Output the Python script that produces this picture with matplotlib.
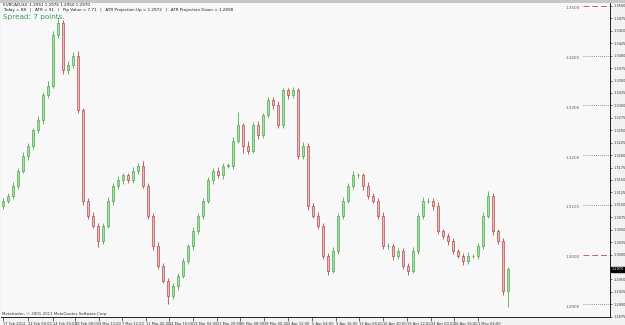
import matplotlib
matplotlib.use("Agg")
import matplotlib.pyplot as plt

# ---------------- data ----------------
closes = [1.3108, 1.3118, 1.3138, 1.3169, 1.3199, 1.3219, 1.3250, 1.3270, 1.3320, 1.3340,
          1.3441, 1.3466, 1.3371, 1.3381, 1.3400, 1.3290, 1.3108, 1.3078, 1.3058, 1.3027,
          1.3058, 1.3108, 1.3138, 1.3149, 1.3159, 1.3149, 1.3169, 1.3179, 1.3138, 1.3078,
          1.3017, 1.2977, 1.2947, 1.2916, 1.2936, 1.2957, 1.2987, 1.3017, 1.3047, 1.3078,
          1.3108, 1.3149, 1.3169, 1.3159, 1.3179, 1.3179, 1.3229, 1.3260, 1.3219, 1.3209,
          1.3260, 1.3240, 1.3280, 1.3310, 1.3300, 1.3260, 1.3330, 1.3320, 1.3330, 1.3199,
          1.3219, 1.3098, 1.3078, 1.3058, 1.2997, 1.2967, 1.3007, 1.3078, 1.3108, 1.3138,
          1.3159, 1.3159, 1.3138, 1.3118, 1.3108, 1.3078, 1.3017, 1.3017, 1.2997, 1.3007,
          1.2977, 1.2967, 1.3007, 1.3078, 1.3108, 1.3108, 1.3098, 1.3047, 1.3037, 1.3027,
          1.3007, 1.2997, 1.2987, 1.2997, 1.2997, 1.3017, 1.3078, 1.3118, 1.3047, 1.3027,
          1.2926, 1.2970]
first_open = 1.3098
wick_up_pips = [5, 6, 8, 5, 7, 6, 5, 8, 6, 10,
                8, 12, 6, 8, 7, 10, 5, 6, 8, 5,
                6, 7, 5, 8, 6, 5, 7, 6, 9, 5,
                6, 8, 5, 6, 7, 5, 6, 5, 8, 6,
                5, 7, 6, 8, 6, 5, 7, 26, 5, 9,
                6, 8, 5, 7, 6, 8, 5, 6, 7, 6,
                8, 5, 6, 7, 5, 6, 8, 5, 7, 6,
                9, 6, 5, 7, 6, 5, 8, 6, 5, 7,
                6, 5, 8, 6, 7, 5, 6, 8, 5, 6,
                7, 5, 6, 8, 5, 6, 7, 10, 6, 5,
                6, 5]
wick_dn_pips = [6, 5, 7, 6, 5, 8, 6, 5, 7, 6,
                5, 6, 8, 7, 6, 5, 9, 6, 5, 12,
                6, 5, 8, 6, 7, 5, 6, 8, 5, 6,
                7, 6, 5, 16, 6, 7, 5, 6, 8, 5,
                6, 5, 7, 6, 8, 5, 6, 5, 14, 6,
                5, 8, 6, 5, 7, 6, 5, 8, 6, 7,
                6, 8, 5, 7, 6, 9, 5, 6, 7, 5,
                6, 5, 8, 6, 5, 7, 6, 5, 8, 6,
                7, 9, 5, 6, 7, 5, 8, 6, 5, 7,
                6, 5, 8, 6, 5, 7, 6, 5, 8, 6,
                7, 31]

x_labels = ["17 Feb 2012", "22 Feb 04:00", "24 Feb 20:00", "29 Feb 08:00", "4 Mar 13:00",
            "7 Mar 12:00", "11 Mar 00:00", "14 Mar 16:00", "19 Mar 04:00", "21 Mar 20:00",
            "26 Mar 08:00", "28 Mar 00:00", "2 Apr 12:00", "5 Apr 04:00", "9 Apr 16:00",
            "12 Apr 08:00", "16 Apr 20:00", "19 Apr 12:00", "24 Apr 00:00", "26 Apr 16:00",
            "1 May 04:00"]
x_label_bars = [0, 5, 10, 14.4, 19.2, 23.8, 28.6, 33.2, 38, 42.8, 47.4, 52.2, 57,
                61.8, 66.6, 71.2, 76, 80.8, 85.6, 90.2, 95]

level_values = [1.3500, 1.3400, 1.3300, 1.3200, 1.3100, 1.3000, 1.2900]
level_styles = ["dash", "dot", "dot", "dot", "dot", "dash", "dot"]
current_price = 1.2970

header1 = "EURCAD,H4  1.2951 1.2976 1.2950 1.2970"
header2 = ("Today = 88   |   ATR = 91   |   Pip Value = 7.71   |   "
           "ATR Projection Up = 1.2972   |   ATR Projection Down = 1.2898")
spread_text = "Spread: 7 points."
copyright_text = "Metatrader, \u00a9 2001-2011 MetaQuotes Software Corp."

# ---------------- figure ----------------
W, H = 625, 325
fig = plt.figure(figsize=(W / 100, H / 100), dpi=100, facecolor="#f3f3f3")
ax = fig.add_axes([1 / W, 8 / H, 609 / W, 314 / H])
ax.set_facecolor("#f8f8f8")

n = len(closes)
step = 5.0  # px per bar
opens = [first_open] + closes[:-1]
pip = 0.0001
bull_edge, bull_face = "#2f9a2f", "#a8dfa8"
bear_edge, bear_face = "#a52a2a", "#ebbcbc"
for i in range(n):
    o, c = opens[i], closes[i]
    hi = max(o, c) + wick_up_pips[i] * pip
    lo = min(o, c) - wick_dn_pips[i] * pip
    up = c >= o
    ec = bull_edge if up else bear_edge
    fc = bull_face if up else bear_face
    ax.vlines(i, lo, hi, color=ec, lw=0.5, zorder=2)
    ax.bar(i, max(abs(c - o), 0.00005), bottom=min(o, c), width=0.42,
           facecolor=fc, edgecolor=ec, linewidth=0.4, zorder=3)

x0 = -2 / step
x1 = x0 + 609 / step
ax.set_xlim(x0, x1)
ymin, ymax = 1.28743, 1.35060
ax.set_ylim(ymin, ymax)

# level lines at right
lx0 = x0 + 582 / step
for v, s in zip(level_values, level_styles):
    if s == "dash":
        ax.plot([lx0, x1], [v, v], color="#c06060", lw=0.7, ls=(0, (6, 3)), zorder=4)
    else:
        ax.plot([lx0, x1], [v, v], color="#4a9a4a", lw=0.6, ls=(0, (1, 1.5)), zorder=4)
    ax.text(x0 + 565 / step, v - 0.0001, f"{v:.4f}", fontsize=3.0, color="#606060",
            ha="left", va="top", zorder=5)

# right axis ticks (the 1.2975 label is hidden under the current-price box)
ax.yaxis.tick_right()
yt = [1.2875 + 0.0025 * k for k in range(26)]
ax.set_yticks(yt)
ylabels = ["" if abs(v - current_price) < 0.0008 else f"{v:.4f}" for v in yt]
ax.set_yticklabels(ylabels, fontsize=2.5, color="#333333")
ax.tick_params(axis="y", direction="out", length=1.5, width=0.5, pad=0.8, colors="#333333")

ax.set_xticks(x_label_bars)
ax.set_xticklabels(x_labels, fontsize=2.6, color="#333333", ha="left")
ax.tick_params(axis="x", direction="out", length=3, width=0.5, pad=0.3, colors="#333333")

for sp in ["left", "top"]:
    ax.spines[sp].set_visible(False)
ax.spines["right"].set_linewidth(0.6)
ax.spines["bottom"].set_linewidth(0.6)

# current price box
ax.annotate(f"{current_price:.4f}", xy=(1.0, current_price), xycoords=("axes fraction", "data"),
            xytext=(1.2, 0), textcoords="offset points", fontsize=2.5, color="white",
            ha="left", va="center",
            bbox=dict(boxstyle="square,pad=0.2", fc="black", ec="black"), zorder=6)

# top gray strip
fig.patches.append(plt.Rectangle((0, 1 - 3 / H), 1, 3 / H, transform=fig.transFigure,
                                 facecolor="#c8c8c8", edgecolor="none"))

# header texts
fig.text(3 / W, 1 - 5.5 / H, header1, fontsize=3.0, color="#222222", va="center")
fig.text(3 / W, 1 - 10 / H, header2, fontsize=3.0, color="#222222", va="center")
fig.text(3 / W, 1 - 16.5 / H, spread_text, fontsize=5.2, color="#3d9b5b", va="center")
fig.text(2 / W, 1 - 314 / H, copyright_text, fontsize=2.8, color="#333333", va="center")

fig.savefig("out.png", dpi=100, facecolor=fig.get_facecolor())
